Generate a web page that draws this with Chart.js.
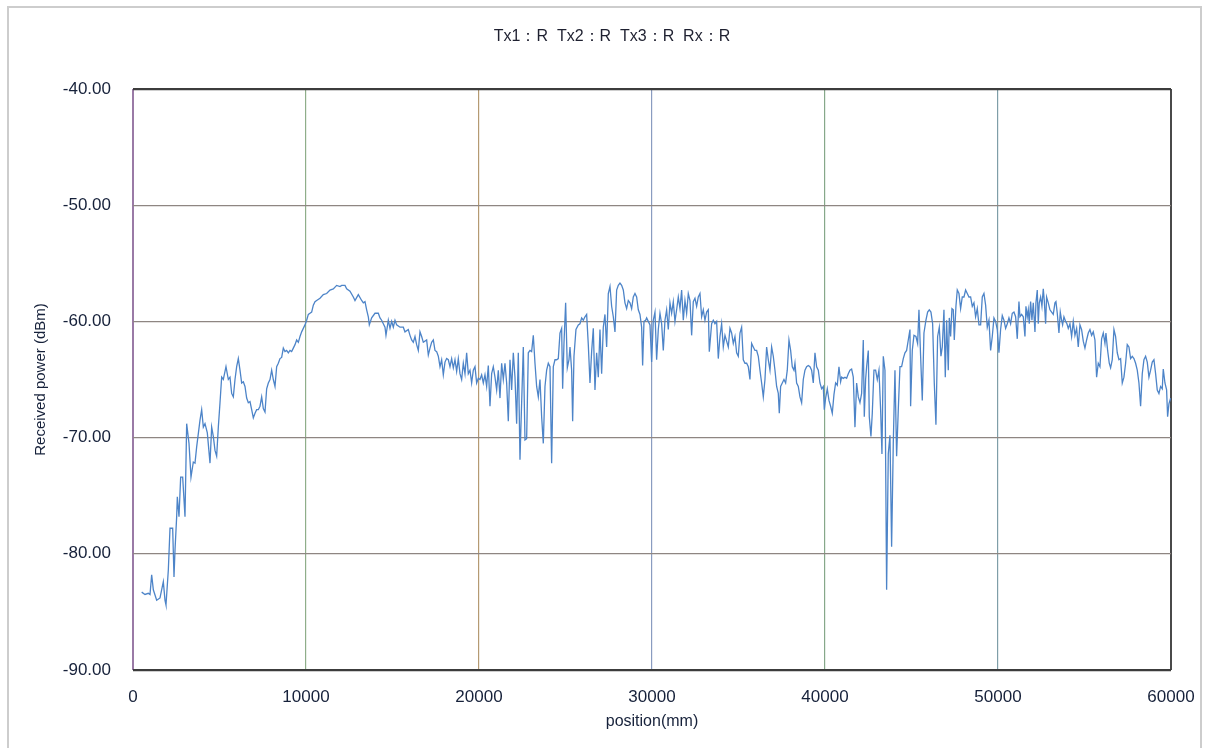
<!DOCTYPE html>
<html>
<head>
<meta charset="utf-8">
<script src="https://cdn.jsdelivr.net/npm/chart.js@4"></script>
<style>
  body { margin: 0; background: #fff; overflow: hidden; }
  #frame { position: absolute; left: 7px; top: 6px; width: 1191px; height: 800px; border: 2px solid #cdcdcd; }
  #c { position: absolute; left: 0; top: 0; }
</style>
</head>
<body>
<div id="frame"></div>
<canvas id="c" width="1207" height="748"></canvas>
<script>
// Data ------------------------------------------------------------

const chartTitle = 'Tx1\uFF1AR  Tx2\uFF1AR  Tx3\uFF1AR  Rx\uFF1AR';

const xTicks = [0, 10000, 20000, 30000, 40000, 50000, 60000];
const yTicks = [-90, -80, -70, -60, -50, -40];

// position (mm)
const positions = [
  501, 694, 886, 983, 1079, 1175, 1368, 1561, 1753, 1850, 1907, 2042, 2139, 2293, 2370, 2428,
  2524, 2562, 2659, 2755, 2871, 3006, 3102, 3237, 3352, 3487, 3584, 3680, 3873, 3969, 4065, 4162,
  4296, 4451, 4547, 4643, 4740, 4836, 4932, 5029, 5125, 5221, 5375, 5510, 5607, 5703, 5799, 5896,
  5992, 6088, 6185, 6281, 6377, 6474, 6570, 6666, 6763, 6859, 6955, 7052, 7148, 7244, 7341, 7437,
  7533, 7630, 7726, 7822, 7919, 8015, 8111, 8208, 8304, 8400, 8497, 8593, 8689, 8786, 8882, 8978,
  9075, 9171, 9267, 9364, 9460, 9556, 9653, 9749, 9845, 9942, 10038, 10134, 10231, 10327, 10423, 10520,
  10616, 10809, 11001, 11194, 11387, 11579, 11772, 11965, 12061, 12254, 12350, 12543, 12735, 12832, 13024, 13217,
  13313, 13410, 13506, 13602, 13660, 13795, 13988, 14180, 14277, 14373, 14469, 14566, 14623, 14758, 14855, 14951,
  15047, 15144, 15240, 15433, 15625, 15722, 15914, 16011, 16107, 16203, 16300, 16396, 16492, 16589, 16685, 16781,
  16974, 17070, 17167, 17263, 17359, 17456, 17552, 17648, 17745, 17841, 17937, 18034, 18130, 18226, 18323, 18419,
  18515, 18612, 18708, 18804, 18901, 18997, 19093, 19190, 19286, 19382, 19479, 19575, 19671, 19768, 19864, 19960,
  20057, 20153, 20249, 20346, 20442, 20538, 20635, 20731, 20827, 20924, 21020, 21116, 21213, 21309, 21405, 21502,
  21598, 21694, 21791, 21887, 21983, 22080, 22176, 22272, 22369, 22407, 22561, 22658, 22754, 22850, 22947, 23043,
  23139, 23236, 23332, 23428, 23525, 23621, 23717, 23814, 23910, 24006, 24103, 24199, 24295, 24392, 24488, 24584,
  24681, 24777, 24835, 24912, 25008, 25105, 25201, 25259, 25355, 25413, 25490, 25605, 25740, 25837, 25933, 26029,
  26126, 26222, 26318, 26415, 26511, 26607, 26704, 26800, 26896, 26993, 27089, 27185, 27282, 27378, 27474, 27571,
  27667, 27763, 27860, 27956, 28052, 28149, 28245, 28341, 28438, 28534, 28630, 28727, 28823, 28919, 29016, 29112,
  29208, 29305, 29401, 29459, 29536, 29632, 29690, 29786, 29883, 29979, 30075, 30172, 30268, 30364, 30461, 30557,
  30653, 30750, 30846, 30942, 31039, 31135, 31231, 31328, 31424, 31520, 31617, 31713, 31809, 31906, 32002, 32098,
  32195, 32291, 32387, 32484, 32580, 32676, 32773, 32869, 32965, 33062, 33158, 33254, 33312, 33447, 33543, 33640,
  33736, 33832, 33929, 34025, 34121, 34218, 34314, 34410, 34507, 34603, 34699, 34796, 34892, 34988, 35085, 35181,
  35277, 35374, 35470, 35566, 35663, 35759, 35855, 35952, 36048, 36144, 36241, 36337, 36433, 36530, 36626, 36722,
  36819, 36915, 37011, 37108, 37204, 37300, 37358, 37435, 37531, 37628, 37724, 37820, 37917, 38013, 38109, 38206,
  38264, 38360, 38456, 38553, 38649, 38745, 38842, 38938, 39034, 39131, 39227, 39323, 39420, 39516, 39612, 39709,
  39805, 39901, 39959, 40036, 40132, 40229, 40325, 40421, 40518, 40614, 40710, 40807, 40903, 40961, 41057, 41154,
  41250, 41346, 41443, 41539, 41635, 41732, 41828, 41924, 42021, 42117, 42213, 42271, 42348, 42406, 42502, 42560,
  42656, 42733, 42830, 42926, 43022, 43119, 43215, 43292, 43369, 43466, 43562, 43658, 43755, 43851, 43947, 44044,
  44140, 44236, 44333, 44429, 44525, 44622, 44718, 44814, 44911, 44949, 45045, 45142, 45257, 45354, 45431, 45527,
  45623, 45720, 45835, 45932, 46028, 46124, 46221, 46317, 46413, 46510, 46606, 46702, 46779, 46876, 46953, 47030,
  47126, 47184, 47261, 47338, 47415, 47473, 47569, 47646, 47743, 47839, 47935, 48032, 48128, 48224, 48321, 48417,
  48513, 48610, 48706, 48802, 48899, 48995, 49091, 49188, 49284, 49380, 49477, 49573, 49669, 49766, 49862, 49958,
  50055, 50151, 50247, 50344, 50440, 50536, 50633, 50729, 50825, 50922, 51018, 51114, 51211, 51269, 51365, 51461,
  51558, 51615, 51692, 51750, 51808, 51885, 51962, 52039, 52136, 52193, 52270, 52328, 52386, 52463, 52540, 52617,
  52675, 52752, 52810, 52906, 53003, 53099, 53195, 53292, 53349, 53426, 53523, 53600, 53677, 53735, 53812, 53908,
  53985, 54062, 54159, 54255, 54351, 54448, 54544, 54640, 54737, 54833, 54929, 55026, 55122, 55218, 55315, 55411,
  55507, 55604, 55700, 55796, 55893, 55989, 56085, 56182, 56239, 56336, 56432, 56509, 56605, 56702, 56798, 56894,
  56991, 57087, 57183, 57280, 57376, 57472, 57569, 57665, 57761, 57858, 57954, 58050, 58147, 58243, 58339, 58436,
  58532, 58628, 58725, 58821, 58917, 59014, 59110, 59206, 59303, 59399, 59495, 59553, 59650, 59746, 59804, 59881,
  59977
];

// received power (dBm)
const powers = [
  -83.3, -83.5, -83.4, -83.5, -81.8, -83.1, -84.0, -83.8, -82.4, -84.0, -84.4, -81.4, -77.8, -77.8, -82.0, -79.7,
  -76.8, -75.1, -76.8, -73.4, -73.4, -76.8, -68.8, -70.5, -73.4, -72.1, -72.2, -70.8, -68.5, -67.6, -69.1, -68.8,
  -69.6, -72.2, -69.1, -69.9, -71.1, -71.6, -69.1, -67.0, -64.8, -65.0, -63.9, -65.0, -64.8, -66.2, -66.5, -65.0,
  -63.9, -63.2, -64.2, -65.3, -65.2, -65.6, -66.6, -67.0, -66.9, -67.6, -68.3, -67.9, -67.6, -67.6, -67.3, -66.5,
  -67.5, -67.8, -65.8, -65.3, -65.0, -64.2, -65.0, -65.6, -63.9, -63.6, -63.2, -63.1, -62.3, -62.6, -62.5, -62.7,
  -62.5, -62.6, -62.3, -62.0, -61.6, -61.8, -61.3, -60.9, -60.6, -60.3, -59.9, -59.4, -59.3, -59.2, -58.6, -58.3,
  -58.2, -58.0, -57.7, -57.6, -57.3, -57.2, -56.9, -57.0, -56.9, -56.9, -57.2, -57.4, -57.9, -58.2, -57.7, -58.2,
  -58.4, -58.3, -59.0, -59.6, -60.3, -59.7, -59.3, -59.3, -59.7, -59.9, -60.2, -60.5, -61.2, -59.9, -60.6, -60.0,
  -60.5, -59.9, -60.3, -60.5, -60.5, -60.9, -60.7, -61.2, -61.6, -61.8, -61.3, -62.0, -62.5, -60.9, -61.3, -61.8,
  -61.6, -62.9, -62.3, -61.8, -61.6, -62.5, -62.6, -63.0, -63.9, -63.3, -64.6, -63.5, -63.2, -63.3, -63.9, -63.2,
  -64.0, -63.3, -64.3, -63.2, -64.5, -65.0, -63.6, -64.5, -62.7, -64.5, -64.2, -65.3, -64.2, -63.9, -65.3, -64.9,
  -65.0, -64.6, -65.3, -64.6, -65.6, -63.8, -67.3, -64.5, -63.9, -64.8, -65.9, -64.2, -66.6, -63.6, -65.0, -63.6,
  -65.3, -68.6, -63.3, -65.9, -62.7, -64.8, -68.8, -62.7, -71.9, -69.9, -62.2, -70.2, -70.1, -62.7, -62.5, -62.6,
  -61.2, -63.6, -65.6, -66.5, -65.0, -68.2, -70.5, -65.6, -64.2, -63.6, -63.9, -72.2, -63.9, -63.3, -63.3, -63.2,
  -61.0, -60.6, -65.8, -61.9, -58.4, -64.0, -63.3, -62.2, -64.2, -68.6, -63.0, -60.7, -60.3, -60.2, -59.7, -59.9,
  -59.6, -59.4, -62.0, -65.3, -62.6, -60.6, -65.9, -62.7, -64.8, -60.7, -64.5, -60.5, -59.4, -62.2, -57.6, -57.0,
  -58.7, -59.6, -60.9, -57.3, -56.9, -56.7, -56.9, -57.3, -58.4, -58.9, -58.2, -58.4, -58.9, -57.9, -57.6, -57.9,
  -59.0, -59.4, -60.5, -63.8, -60.0, -59.9, -59.7, -60.0, -60.3, -63.5, -59.9, -59.2, -63.3, -60.7, -59.3, -60.2,
  -62.5, -59.9, -59.0, -60.7, -58.4, -59.3, -58.3, -60.0, -59.0, -57.9, -58.9, -57.3, -59.9, -58.2, -59.3, -57.6,
  -58.2, -61.2, -58.3, -58.0, -58.7, -57.9, -57.6, -59.6, -59.0, -59.9, -59.2, -59.0, -62.6, -60.2, -59.9, -60.2,
  -60.0, -63.2, -61.3, -60.2, -62.2, -61.2, -61.7, -62.2, -60.6, -61.0, -61.9, -61.3, -62.7, -63.0, -61.0, -60.5,
  -63.3, -63.6, -63.6, -63.9, -65.0, -61.9, -62.2, -62.5, -62.5, -63.0, -64.2, -65.3, -66.5, -65.0, -62.2, -63.3,
  -64.2, -62.2, -63.0, -64.2, -65.6, -66.2, -67.9, -65.6, -65.3, -65.0, -65.3, -64.2, -61.6, -62.5, -63.9, -64.2,
  -63.6, -65.3, -65.6, -66.5, -67.0, -65.0, -64.2, -63.9, -63.8, -63.9, -64.2, -65.3, -62.7, -63.9, -64.2, -65.3,
  -65.8, -65.6, -67.6, -66.6, -65.8, -66.8, -67.3, -67.9, -66.3, -65.3, -65.5, -63.9, -65.2, -64.8, -64.9, -64.8,
  -64.9, -64.5, -64.2, -64.1, -64.8, -69.1, -65.3, -66.5, -67.0, -66.2, -61.6, -68.2, -65.0, -63.9, -62.5, -68.2,
  -69.9, -67.9, -64.2, -64.2, -65.0, -64.2, -67.6, -71.4, -63.0, -64.2, -83.1, -71.4, -69.8, -79.4, -70.5, -64.2,
  -71.6, -67.6, -63.9, -63.9, -63.2, -62.7, -62.5, -61.6, -60.7, -67.3, -62.5, -61.2, -61.3, -61.9, -59.0, -63.0,
  -66.8, -61.0, -59.9, -59.2, -59.0, -59.2, -60.2, -65.3, -68.9, -61.3, -60.5, -63.0, -62.2, -59.0, -64.8, -59.9,
  -64.2, -59.7, -61.3, -58.9, -59.0, -61.6, -58.7, -57.3, -57.6, -58.9, -57.9, -57.9, -57.3, -57.6, -57.9, -57.9,
  -58.7, -58.4, -59.6, -58.9, -60.3, -60.3, -57.9, -57.6, -58.6, -60.5, -59.9, -62.5, -61.3, -59.7, -60.0, -60.7,
  -62.7, -60.7, -59.5, -59.9, -60.6, -60.2, -59.7, -60.2, -59.3, -59.2, -59.6, -61.5, -58.3, -59.6, -59.4, -59.6,
  -61.3, -58.7, -59.6, -59.0, -60.2, -58.3, -59.9, -58.4, -60.9, -58.4, -57.3, -60.2, -58.4, -57.9, -58.7, -57.2,
  -58.2, -60.2, -57.9, -58.4, -59.0, -59.2, -59.4, -58.4, -58.3, -59.3, -61.0, -59.2, -59.9, -60.3, -59.6, -60.0,
  -60.2, -60.6, -60.2, -61.3, -60.0, -61.2, -60.6, -62.2, -60.3, -60.7, -61.7, -62.3, -61.6, -61.0, -60.7, -61.2,
  -60.9, -61.6, -64.8, -63.6, -63.9, -61.5, -61.0, -61.9, -61.0, -62.5, -63.6, -64.0, -63.3, -60.7, -61.3, -62.7,
  -63.3, -63.2, -65.3, -64.8, -63.6, -62.0, -62.2, -63.2, -63.0, -63.2, -63.6, -64.2, -65.3, -67.3, -64.5, -63.3,
  -63.0, -63.5, -64.8, -64.2, -63.5, -63.3, -64.5, -65.9, -66.2, -65.6, -65.8, -64.1, -65.3, -65.9, -68.2, -67.1,
  -66.6
];

// Styling ---------------------------------------------------------

const textColor = '#16213a';
const fontFamily = '"Liberation Sans", Arial, sans-serif';

// the scanned vertical grid lines each have their own tint
const xGridColors = {
  0: '#9a7aa6', 10000: '#8fae8a', 20000: '#b59a72', 30000: '#8a9cc0',
  40000: '#86a88a', 50000: '#7f9ea8', 60000: '#4a4a4a'
};

const points = positions.map((x, i) => ({ x: x, y: powers[i] }));

// draws the heading centred over the page like the original sheet
const headingPlugin = {
  id: 'heading',
  afterDraw(chart) {
    const ctx = chart.ctx;
    ctx.save();
    ctx.font = '16px ' + fontFamily;
    ctx.fillStyle = '#1e2030';
    ctx.textAlign = 'center';
    ctx.textBaseline = 'middle';
    ctx.fillText(chartTitle, 612, 37);
    ctx.restore();
  }
};

const config = {
  type: 'line',
  data: {
    datasets: [{
      data: points,
      borderColor: '#4d84c8',
      borderWidth: 1.3,
      pointRadius: 0,
      tension: 0,
      fill: false
    }]
  },
  options: {
    responsive: false,
    animation: false,
    devicePixelRatio: 1,
    layout: { padding: { top: 89, right: 36, bottom: 0, left: 0 } },
    plugins: {
      legend: { display: false },
      tooltip: { enabled: false },
      title: { display: false }
    },
    scales: {
      x: {
        type: 'linear',
        min: 0,
        max: 60000,
        afterBuildTicks: (s) => { s.ticks = xTicks.map(v => ({ value: v })); },
        afterFit: (s) => { s.height = 78; s.paddingLeft = 0; s.paddingRight = 0; },
        border: { display: false },
        grid: {
          drawTicks: false,
          color: (c) => xGridColors[c.tick.value] || '#999',
          lineWidth: (c) => (c.tick.value === 60000 ? 2 : (c.tick.value === 0 ? 2 : 1.2))
        },
        ticks: {
          padding: 17,
          autoSkip: false,
          maxRotation: 0,
          color: textColor,
          font: { family: fontFamily, size: 17 },
          callback: (v) => String(v)
        },
        title: {
          display: true,
          text: 'position(mm)',
          color: textColor,
          font: { family: fontFamily, size: 16 },
          padding: { top: 0, bottom: 17 }
        }
      },
      y: {
        type: 'linear',
        min: -90,
        max: -40,
        afterBuildTicks: (s) => { s.ticks = yTicks.map(v => ({ value: v })); },
        afterFit: (s) => { s.width = 133; },
        border: { display: false },
        grid: {
          drawTicks: false,
          color: (c) => ((c.tick.value === -40 || c.tick.value === -90) ? '#3c3c3c' : '#8e8682'),
          lineWidth: (c) => ((c.tick.value === -40 || c.tick.value === -90) ? 2.2 : 1.2)
        },
        ticks: {
          padding: 22,
          color: textColor,
          font: { family: fontFamily, size: 17 },
          callback: (v) => v.toFixed(2)
        },
        title: {
          display: true,
          text: 'Received power (dBm)',
          color: textColor,
          font: { family: fontFamily, size: 15 },
          padding: { top: 32, bottom: 0 }
        }
      }
    }
  },
  plugins: [headingPlugin]
};

new Chart(document.getElementById('c'), config);
</script>
</body>
</html>
